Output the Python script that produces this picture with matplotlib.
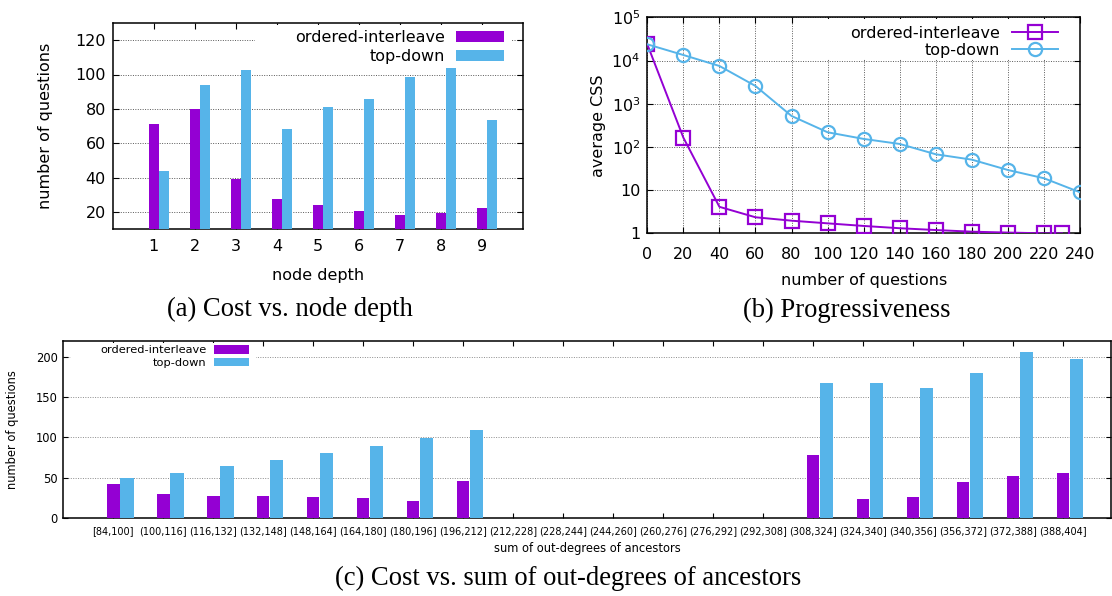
import matplotlib
matplotlib.use("Agg")
import matplotlib.pyplot as plt
from matplotlib.patches import Rectangle

# (a) cost vs. node depth
depth = [1, 2, 3, 4, 5, 6, 7, 8, 9]
depth_oi = [71, 80, 39, 27.5, 24, 20.5, 18, 19.5, 22]
depth_td = [43.5, 94, 102.5, 68.5, 81, 86, 98.5, 103.5, 73.5]

# (b) progressiveness
q_oi = [0, 20, 40, 60, 80, 100, 120, 140, 160, 180, 200, 220, 230]
css_oi = [23700, 164, 4.1, 2.35, 1.96, 1.70, 1.48, 1.31, 1.19, 1.09, 1.04, 1.0, 1.0]
q_td = [0, 20, 40, 60, 80, 100, 120, 140, 160, 180, 200, 220, 240]
css_td = [23700, 13400, 7470, 2570, 520, 218, 153, 117, 67.5, 50.7, 29.2, 18.8, 8.9]

# (c) cost vs. sum of out-degrees of ancestors
bins = ["[84,100]", "(100,116]", "(116,132]", "(132,148]", "(148,164]", "(164,180]",
        "(180,196]", "(196,212]", "(212,228]", "(228,244]", "(244,260]", "(260,276]",
        "(276,292]", "(292,308]", "(308,324]", "(324,340]", "(340,356]", "(356,372]",
        "(372,388]", "(388,404]"]
bins_oi = [42.5, 29, 27, 27, 25.3, 25, 21.2, 45.2, 0, 0, 0, 0, 0, 0, 78, 23.2, 25.3, 44.4, 52.3, 56]
bins_td = [49, 56, 64, 72, 80.5, 89.6, 98.8, 108.7, 0, 0, 0, 0, 0, 0, 168, 167.2, 161.4, 180.5, 205.8, 198]

PURPLE = "#9400D3"
BLUE = "#56B4E9"
W, H = 1112, 596

plt.rcParams['font.family'] = ['DejaVu Sans']
fig = plt.figure(figsize=(W / 100, H / 100), dpi=100)


def box(l, t, r, b):
    return [l / W, 1 - b / H, (r - l) / W, (b - t) / H]


def style(ax, size, length=4):
    ax.tick_params(direction='in', top=True, right=True, length=length, width=0.8,
                   labelsize=size, colors='black')
    for s in ax.spines.values():
        s.set_linewidth(1.1)
    ax.set_axisbelow(True)


def cover(ax, l, t, r, b):
    # opaque key background like gnuplot
    bb = ax.get_position()
    x0 = (l / W - bb.x0) / bb.width
    x1 = (r / W - bb.x0) / bb.width
    y0 = ((1 - b / H) - bb.y0) / bb.height
    y1 = ((1 - t / H) - bb.y0) / bb.height
    ax.add_patch(Rectangle((x0, y0), x1 - x0, y1 - y0, transform=ax.transAxes,
                           facecolor='white', edgecolor='none', zorder=1.5))


grid_kw = dict(color='0.35', linestyle=(0, (1, 1.5)), linewidth=0.7)

# ---------------- (a)
axa = fig.add_axes(box(112.7, 23, 523, 229))
w = 0.25
axa.bar(depth, depth_oi, width=w, color=PURPLE, zorder=3, label='ordered-interleave')
axa.bar([d + w for d in depth], depth_td, width=w, color=BLUE, zorder=3, label='top-down')
axa.set_xlim(0, 10)
axa.set_ylim(10, 130)
axa.set_xticks(depth)
axa.set_yticks([20, 40, 60, 80, 100, 120])
axa.yaxis.grid(True, **grid_kw)
style(axa, 11.5)
axa.tick_params(axis='x', pad=7)
axa.tick_params(axis='y', pad=5)
axa.set_xlabel('node depth', fontsize=11.5, labelpad=10)
axa.set_ylabel('number of questions', fontsize=11.5, labelpad=16)
cover(axa, 255, 25, 512, 65)
axa.legend(loc='upper right', bbox_to_anchor=(0.953, 0.965), frameon=False, markerfirst=False,
           fontsize=11.5, handlelength=3.0, handleheight=0.63, handletextpad=0.65,
           labelspacing=0.25, borderpad=0, borderaxespad=0)

# ---------------- (b)
axb = fig.add_axes(box(647.3, 17.3, 1080, 233.3))
axb.plot(q_oi, css_oi, color=PURPLE, lw=1.4, marker='s', ms=9.5, mfc='none', mew=1.6,
         label='ordered-interleave', zorder=3)
axb.plot(q_td, css_td, color=BLUE, lw=1.4, marker='o', ms=9.5, mfc='none', mew=1.6,
         label='top-down', zorder=3)
axb.set_yscale('log')
axb.set_xlim(0, 240)
axb.set_ylim(1, 1e5)
axb.set_xticks(range(0, 241, 20))
axb.set_yticks([1, 10, 100, 1000, 1e4, 1e5])
axb.set_yticklabels(['1', '10', r'$10^2$', r'$10^3$', r'$10^4$', r'$10^5$'])
axb.yaxis.set_minor_locator(matplotlib.ticker.NullLocator())
axb.grid(True, **grid_kw)
style(axb, 11.5)
axb.tick_params(axis='x', pad=10)
axb.tick_params(axis='y', pad=5)
axb.set_xlabel('number of questions', fontsize=11.5, labelpad=8)
axb.set_ylabel('average CSS', fontsize=11.5, labelpad=4)
cover(axb, 815, 19, 1077, 59)
axb.legend(loc='upper right', bbox_to_anchor=(0.950, 0.962), frameon=False, markerfirst=False,
           fontsize=11.5, handlelength=2.9, handletextpad=0.78,
           labelspacing=0.15, borderpad=0, borderaxespad=0)

# ---------------- (c)
axc = fig.add_axes(box(63.3, 341, 1111, 517.7))
pos = list(range(len(bins)))
wc = 0.25
axc.bar(pos, bins_oi, width=wc, color=PURPLE, zorder=3, label='ordered-interleave')
axc.bar([p + wc + 0.02 for p in pos], bins_td, width=wc + 0.02, color=BLUE, zorder=3,
        label='top-down')
axc.set_xlim(-1, 19.96)
axc.set_ylim(0, 220)
axc.set_xticks(pos)
axc.set_xticklabels(bins, fontsize=7)
axc.set_yticks([0, 50, 100, 150, 200])
axc.yaxis.grid(True, color='0.55', linestyle=(0, (1, 1.5)), linewidth=0.7)
style(axc, 8.3, length=3.5)
axc.tick_params(axis='x', labelsize=7, pad=6)
axc.tick_params(axis='y', pad=4)
axc.set_xlabel('sum of out-degrees of ancestors', fontsize=8.3, labelpad=4)
axc.set_ylabel('number of questions', fontsize=8.3, labelpad=12)
cover(axc, 71, 343, 256, 371)
axc.legend(loc='upper right', bbox_to_anchor=(0.1772, 0.975), frameon=False, markerfirst=False,
           fontsize=8.2, handlelength=3.1, handleheight=0.72, handletextpad=0.66,
           labelspacing=0.25, borderpad=0, borderaxespad=0)

# captions
cap = dict(family='Liberation Serif', fontsize=19.2, ha='center', va='center')
fig.text(290 / W, 1 - 309 / H, '(a) Cost vs. node depth', **cap)
fig.text(846.6 / W, 1 - 310 / H, '(b) Progressiveness', **cap)
fig.text(568.5 / W, 1 - 578 / H, '(c) Cost vs. sum of out-degrees of ancestors', **cap)

fig.savefig('out.png', dpi=100)
